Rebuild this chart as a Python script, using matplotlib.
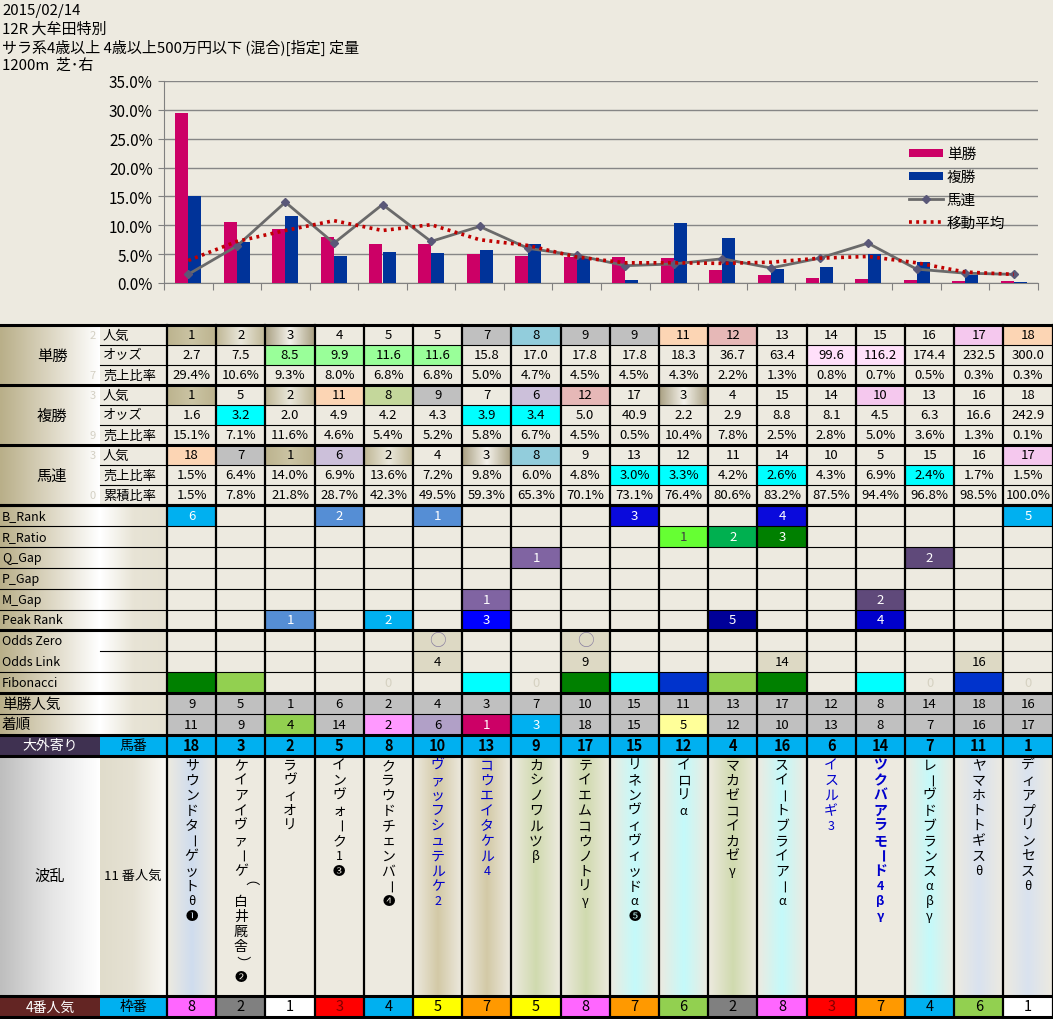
import numpy as np
import matplotlib
matplotlib.use("Agg")
import matplotlib.pyplot as plt
from matplotlib.patches import Rectangle
from matplotlib.colors import LinearSegmentedColormap

plt.rcParams['font.family'] = ['Noto Sans CJK JP', 'DejaVu Sans']

# ---- data ----
header_lines = ["2015/02/14", "12R 大牟田特別",
                "サラ系4歳以上 4歳以上500万円以下 (混合)[指定] 定量", "1200m  芝･右"]

tan_pop = [1, 2, 3, 4, 5, 5, 7, 8, 9, 9, 11, 12, 13, 14, 15, 16, 17, 18]
tan_odds = [2.7, 7.5, 8.5, 9.9, 11.6, 11.6, 15.8, 17.0, 17.8, 17.8, 18.3, 36.7, 63.4, 99.6, 116.2, 174.4, 232.5, 300.0]
tan_share = [29.4, 10.6, 9.3, 8.0, 6.8, 6.8, 5.0, 4.7, 4.5, 4.5, 4.3, 2.2, 1.3, 0.8, 0.7, 0.5, 0.3, 0.3]
fuku_pop = [1, 5, 2, 11, 8, 9, 7, 6, 12, 17, 3, 4, 15, 14, 10, 13, 16, 18]
fuku_odds = [1.6, 3.2, 2.0, 4.9, 4.2, 4.3, 3.9, 3.4, 5.0, 40.9, 2.2, 2.9, 8.8, 8.1, 4.5, 6.3, 16.6, 242.9]
fuku_share = [15.1, 7.1, 11.6, 4.6, 5.4, 5.2, 5.8, 6.7, 4.5, 0.5, 10.4, 7.8, 2.5, 2.8, 5.0, 3.6, 1.3, 0.1]
umaren_pop = [18, 7, 1, 6, 2, 4, 3, 8, 9, 13, 12, 11, 14, 10, 5, 15, 16, 17]
umaren_share = [1.5, 6.4, 14.0, 6.9, 13.6, 7.2, 9.8, 6.0, 4.8, 3.0, 3.3, 4.2, 2.6, 4.3, 6.9, 2.4, 1.7, 1.5]
umaren_cum = [1.5, 7.8, 21.8, 28.7, 42.3, 49.5, 59.3, 65.3, 70.1, 73.1, 76.4, 80.6, 83.2, 87.5, 94.4, 96.8, 98.5, 100.0]
moving_avg = [3.9, 7.2, 9.1, 10.8, 9.1, 10.1, 7.5, 6.5, 4.5, 3.5, 3.5, 3.4, 3.6, 4.3, 4.6, 3.5, 1.9, 1.5]

b_rank = {0: "6", 3: "2", 5: "1", 9: "3", 12: "4", 17: "5"}
r_ratio = {10: "1", 11: "2", 12: "3"}
q_gap = {7: "1", 15: "2"}
p_gap = {}
m_gap = {6: "1", 14: "2"}
peak_rank = {2: "1", 4: "2", 6: "3", 11: "5", 14: "4"}
odds_zero = {5: "○", 8: "○"}
odds_link = {5: "4", 8: "9", 12: "14", 16: "16"}
fibonacci = {4: "0", 7: "0", 15: "0", 17: "0"}
win_pop = [9, 5, 1, 6, 2, 4, 3, 7, 10, 15, 11, 13, 17, 12, 8, 14, 18, 16]
finish = [11, 9, 4, 14, 2, 6, 1, 3, 18, 15, 5, 12, 10, 13, 8, 7, 16, 17]
horse_no = [18, 3, 2, 5, 8, 10, 13, 9, 17, 15, 12, 4, 16, 6, 14, 7, 11, 1]
frame_no = [8, 2, 1, 3, 4, 5, 7, 5, 8, 7, 6, 2, 8, 3, 7, 4, 6, 1]
names = ["サウンドターゲットθ❶", "ケイアイヴァーゲ（白井厩舎）❷", "ラヴィオリ", "インヴォーク1❸",
         "クラウドチェンバー❹", "ヴァッフシュテルケ2", "コウエイタケル4", "カシノワルツβ",
         "テイエムコウノトリγ", "リネンヴィヴィッドα❺", "イロリα", "マカゼコイカゼγ",
         "スイートブライアーα", "イスルギ3", "ツクバアラモード4βγ", "レーヴドブランスαβγ",
         "ヤマホトトギスθ", "ディアプリンセスθ"]

# ---- styles ----
BG = '#EDEAE0'
G1 = ['#BCB38E', '#CBC4A4', '#BCB38E']
G2 = ['#BFB795', '#EAE7DB', '#BFB795']
G3 = ['#A9A082', '#F4F2EB', '#A9A082']
GREY, PEACH, ROSE, PINK, LBLUE, LAV = '#C0C0C0', '#FCD5B4', '#E6B8B7', '#F5C8EE', '#92CDDC', '#CCC0DA'
CYAN, SKY = '#00FFFF', '#00B0F0'
tan_pop_col = {0: G1, 1: G2, 2: G3, 6: GREY, 7: LBLUE, 8: GREY, 9: GREY, 10: PEACH, 11: ROSE, 16: PINK, 17: PEACH}
tan_odds_col = {2: '#99FF99', 3: '#99FF99', 4: '#99FF99', 5: '#99FF99', 13: '#FFE0FA', 14: '#FFE0FA'}
fuku_pop_col = {0: G1, 2: G2, 3: PEACH, 4: '#C4D79B', 5: GREY, 7: LAV, 8: ROSE, 10: G3, 14: PINK}
fuku_odds_col = {1: CYAN, 6: CYAN, 7: CYAN}
umaren_pop_col = {0: PEACH, 1: GREY, 2: G1, 3: LAV, 4: G2, 6: G3, 7: LBLUE, 17: PINK}
umaren_share_col = {9: CYAN, 10: CYAN, 12: CYAN, 15: CYAN}
b_rank_col = {0: SKY, 3: '#558ED5', 5: '#558ED5', 9: '#0A0ADC', 12: '#0A0ADC', 17: SKY}
r_ratio_col = {10: '#66FF33', 11: '#00B050', 12: '#008000'}
q_gap_col = {7: '#8064A2', 15: '#5F497A'}
m_gap_col = {6: '#8064A2', 14: '#5F497A'}
peak_col = {2: '#558ED5', 4: SKY, 6: '#0000FF', 11: '#000099', 14: '#0000CC'}
link_col = {5: '#DDD9C4', 8: '#DDD9C4', 12: '#DDD9C4', 16: '#DDD9C4'}
fib_col = {0: '#008000', 1: '#92D050', 6: CYAN, 8: '#008000', 9: CYAN, 10: '#0033CC',
           11: '#92D050', 12: '#008000', 14: CYAN, 16: '#0033CC'}
finish_col = {2: '#92D050', 4: '#FF99FF', 5: '#B1A0C7', 6: '#CC0066', 7: SKY, 10: '#FFFF99'}
frame_colors = {1: '#FFFFFF', 2: '#808080', 3: '#FF0000', 4: SKY, 5: '#FFFF00',
                6: '#92D050', 7: '#FF9900', 8: '#FF66FF'}
name_shade = {0: '#CFDCEE', 5: '#D3C9A6', 6: '#D3C9A6', 7: '#D0DAAE', 8: '#D0DAAE', 9: '#C4FAFA',
              10: '#C4FAFA', 11: '#D0DAAE', 12: '#C4FAFA', 15: '#C4FAFA', 16: '#D9E2EF', 17: '#D9E2EF'}
name_blue = {5, 6, 13, 14}

W, H = 1053, 1020
fig = plt.figure(figsize=(W / 100, H / 100), dpi=100, facecolor=BG)
tab = fig.add_axes([0, 0, 1, 1])
tab.set_facecolor(BG)
tab.axis('off')

X0, CW = 167, 49.2
cols_x = [X0 + i * CW for i in range(19)]


def grad(x0, x1, y0, y1, colors):
    cmap = LinearSegmentedColormap.from_list('g', colors)
    tab.imshow(np.linspace(0, 1, 64)[None, :], extent=(x0, x1, y1, y0), cmap=cmap,
               aspect='auto', interpolation='bilinear', zorder=1)


def fill(x0, x1, y0, y1, c):
    if isinstance(c, list):
        grad(x0, x1, y0, y1, c)
    else:
        tab.add_patch(Rectangle((x0, y0), x1 - x0, y1 - y0, color=c, lw=0, zorder=1))


def txt(x, y, s, size=9.5, color='black', ha='center', **kw):
    tab.text(x, y, s, ha=ha, va='center', fontsize=size, color=color, zorder=5, **kw)


dark = {'#0A0ADC', '#0000FF', '#000099', '#0000CC', '#8064A2', '#5F497A', '#00B050', '#008000',
        '#558ED5', SKY, '#CC0066'}

# header
for i, line in enumerate(header_lines):
    txt(2, 11 + i * 18.3, line, size=10.8, ha='left')

# ---- upper table ----
RH = 20
top = 326
upper = [
    ("単勝", "人気", [str(v) for v in tan_pop], tan_pop_col, "2"),
    ("", "オッズ", [f"{v:.1f}" for v in tan_odds], tan_odds_col, ""),
    ("", "売上比率", [f"{v:.1f}%" for v in tan_share], {}, "7"),
    ("複勝", "人気", [str(v) for v in fuku_pop], fuku_pop_col, "3"),
    ("", "オッズ", [f"{v:.1f}" for v in fuku_odds], fuku_odds_col, ""),
    ("", "売上比率", [f"{v:.1f}%" for v in fuku_share], {}, "9"),
    ("馬連", "人気", [str(v) for v in umaren_pop], umaren_pop_col, "3"),
    ("", "売上比率", [f"{v:.1f}%" for v in umaren_share], umaren_share_col, ""),
    ("", "累積比率", [f"{v:.1f}%" for v in umaren_cum], {}, "0"),
]
for r, (grp, sub, vals, cmap_, small) in enumerate(upper):
    y0 = top + r * RH
    if r % 3 == 0:
        grad(0, 100, y0, y0 + 3 * RH, ['#B9AF89', '#DCD6C2', '#FFFFFF'])
        txt(52, y0 + 1.5 * RH, grp, size=11)
    if small:
        txt(93, y0 + RH / 2, small, size=8, color='#D4D0C4')
    txt(103, y0 + RH / 2, sub, ha='left', size=9.5)
    for c in range(18):
        if c in cmap_:
            fill(cols_x[c], cols_x[c + 1], y0, y0 + RH, cmap_[c])
        txt((cols_x[c] + cols_x[c + 1]) / 2, y0 + RH / 2, vals[c])

# ---- lower table ----
LH = 20.9
ltop = top + 9 * RH
lower = [
    ("B_Rank", b_rank, b_rank_col),
    ("R_Ratio", r_ratio, r_ratio_col),
    ("Q_Gap", q_gap, q_gap_col),
    ("P_Gap", p_gap, {}),
    ("M_Gap", m_gap, m_gap_col),
    ("Peak Rank", peak_rank, peak_col),
    ("Odds Zero", odds_zero, link_col),
    ("Odds Link", odds_link, link_col),
    ("Fibonacci", fibonacci, fib_col),
    ("単勝人気", dict(enumerate(str(v) for v in win_pop)), {c: GREY for c in range(18)}),
    ("着順", dict(enumerate(str(v) for v in finish)), {c: finish_col.get(c, GREY) for c in range(18)}),
]
for r, (lab, vals, cmap_) in enumerate(lower):
    y0 = ltop + r * LH
    grad(0, 100, y0, y0 + LH, ['#B9AF89', '#DCD6C2', '#FFFFFF'])
    grad(100, 167, y0, y0 + LH, ['#FFFFFF', '#E8E4D6', '#E4E0D1'])
    txt(2, y0 + LH / 2, lab, ha='left', size=10.5 if r >= 9 else 9)
    for c in range(18):
        col = cmap_.get(c)
        if lab in ("Odds Zero", "Odds Link") and c not in vals:
            col = None
        if col:
            fill(cols_x[c], cols_x[c + 1], y0, y0 + LH, col)
        if c in vals:
            tc = 'white' if col in dark else 'black'
            sz = 9.5
            if lab == "Fibonacci":
                tc = '#D6D2C2'
            if lab == "R_Ratio" and c == 10:
                tc = '#404040'
            if lab == "Odds Zero":
                tc, sz = '#8A80A0', 12
            txt((cols_x[c] + cols_x[c + 1]) / 2, y0 + LH / 2, vals[c], color=tc, size=sz)

# horse number row
y0 = ltop + 11 * LH
fill(0, 100, y0, y0 + LH, '#3F3151')
fill(100, W, y0, y0 + LH, SKY)
txt(50, y0 + LH / 2, "大外寄り", color='white', size=10)
txt(133, y0 + LH / 2, "馬番", size=10)
for c in range(18):
    txt((cols_x[c] + cols_x[c + 1]) / 2, y0 + LH / 2, str(horse_no[c]), size=10.5, weight='bold')

# names row
ny0 = ltop + 12 * LH
ny1 = 997
grad(0, 100, ny0, ny1, ['#BEBEBE', '#E4E4E4', '#FFFFFF'])
grad(100, 167, ny0, ny1, ['#E0DCCB', '#E6E2D4', '#FAF9F5'])
txt(50, (ny0 + ny1) / 2, "波乱", size=11)
txt(133, (ny0 + ny1) / 2, "11 番人気", size=9.5)
for c in range(18):
    if c in name_shade:
        grad(cols_x[c], cols_x[c + 1], ny0, ny1, [BG, name_shade[c], BG])
    colr = '#0000CC' if c in name_blue else 'black'
    wt = 'bold' if c == 14 else 'normal'
    xc = (cols_x[c] + cols_x[c + 1]) / 2
    for k, ch in enumerate(names[c]):
        rot = -90 if ch in "ー（）" else 0
        sz = 10
        if ch in "θαβγ1234" or ch in "❶❷❸❹❺":
            sz = 9
        tab.text(xc, ny0 + 9 + k * 15.1, ch, ha='center', va='center', fontsize=sz,
                 color=colr, weight=wt, rotation=rot, zorder=5)

# frame row
fy0, fy1 = 997, 1018
fill(0, 100, fy0, fy1, '#632523')
fill(100, 167, fy0, fy1, SKY)
txt(50, (fy0 + fy1) / 2, "4番人気", color='white', size=10)
txt(133, (fy0 + fy1) / 2, "枠番", size=10)
for c in range(18):
    fill(cols_x[c], cols_x[c + 1], fy0, fy1, frame_colors[frame_no[c]])
    tc = '#800000' if frame_no[c] == 3 else 'black'
    txt((cols_x[c] + cols_x[c + 1]) / 2, (fy0 + fy1) / 2, str(frame_no[c]), color=tc, size=10.5)

# grid lines
ys_upper = [top + i * RH for i in range(10)]
for i, y in enumerate(ys_upper):
    if i % 3 == 0:
        tab.plot([0, W], [y, y], color='black', lw=2.2, zorder=6)
    else:
        tab.plot([100, W], [y, y], color='black', lw=0.8, zorder=6)
ys_lower = [ltop + i * LH for i in range(13)]
for i, y in enumerate(ys_lower):
    if i in (0, 6, 9, 11, 12):
        tab.plot([0, W], [y, y], color='black', lw=2.2, zorder=6)
    elif i == 7:
        tab.plot([100, W], [y, y], color='black', lw=0.8, zorder=6)
    else:
        tab.plot([0, W], [y, y], color='black', lw=0.8, zorder=6)
for y in (ny1, fy1):
    tab.plot([0, W], [y, y], color='black', lw=2.2, zorder=6)
for x in cols_x:
    tab.plot([x, x], [top, fy1], color='black', lw=1.6, zorder=6)

tab.set_xlim(0, W)
tab.set_ylim(H, 0)

# ---- chart ----
L, R, T, B = 164, 1038, 82, 284
ax = fig.add_axes([L / W, 1 - B / H, (R - L) / W, (B - T) / H])
ax.set_facecolor('none')
x = np.arange(18)
h1 = ax.bar(x - 0.135, np.array(tan_share) / 100, width=0.27, color='#CC0066', label='単勝', zorder=3)
h2 = ax.bar(x + 0.135, np.array(fuku_share) / 100, width=0.27, color='#003399', label='複勝', zorder=3)
h3, = ax.plot(x, np.array(umaren_share) / 100, color='#6A6A6A', lw=2, marker='D', ms=4.5,
              mfc='#5A5878', mec='#5A5878', label='馬連', zorder=4)
h4, = ax.plot(x, np.array(moving_avg) / 100, color='#C00000', lw=2.6, ls=(0, (0.8, 1.2)),
              label='移動平均', zorder=5)
ax.set_xlim(-0.5, 17.5)
ax.set_ylim(0, 0.35)
ax.set_yticks(np.arange(0, 0.351, 0.05))
ax.set_yticklabels([f"{v * 100:.1f}%" for v in np.arange(0, 0.351, 0.05)], fontsize=11)
ax.set_xticks(np.arange(-0.5, 18, 1))
ax.set_xticklabels([])
ax.tick_params(axis='x', length=5, color='#808080', direction='out')
ax.tick_params(axis='y', length=4, color='#808080', direction='out', pad=4)
ax.grid(axis='y', color='#868686', lw=1, zorder=0)
for s in ('top', 'right'):
    ax.spines[s].set_visible(False)
for s in ('left', 'bottom'):
    ax.spines[s].set_color('#808080')
ax.legend(handles=[h1, h2, h3, h4], loc='upper left',
          bbox_to_anchor=((909 - L) / (R - L), 1 - (148 - T) / (B - T)),
          frameon=False, fontsize=10.5, handlelength=2.3, handleheight=0.5,
          handletextpad=0.3, labelspacing=0.62, borderpad=0, borderaxespad=0)

fig.savefig("out.png", dpi=100, facecolor=BG)
